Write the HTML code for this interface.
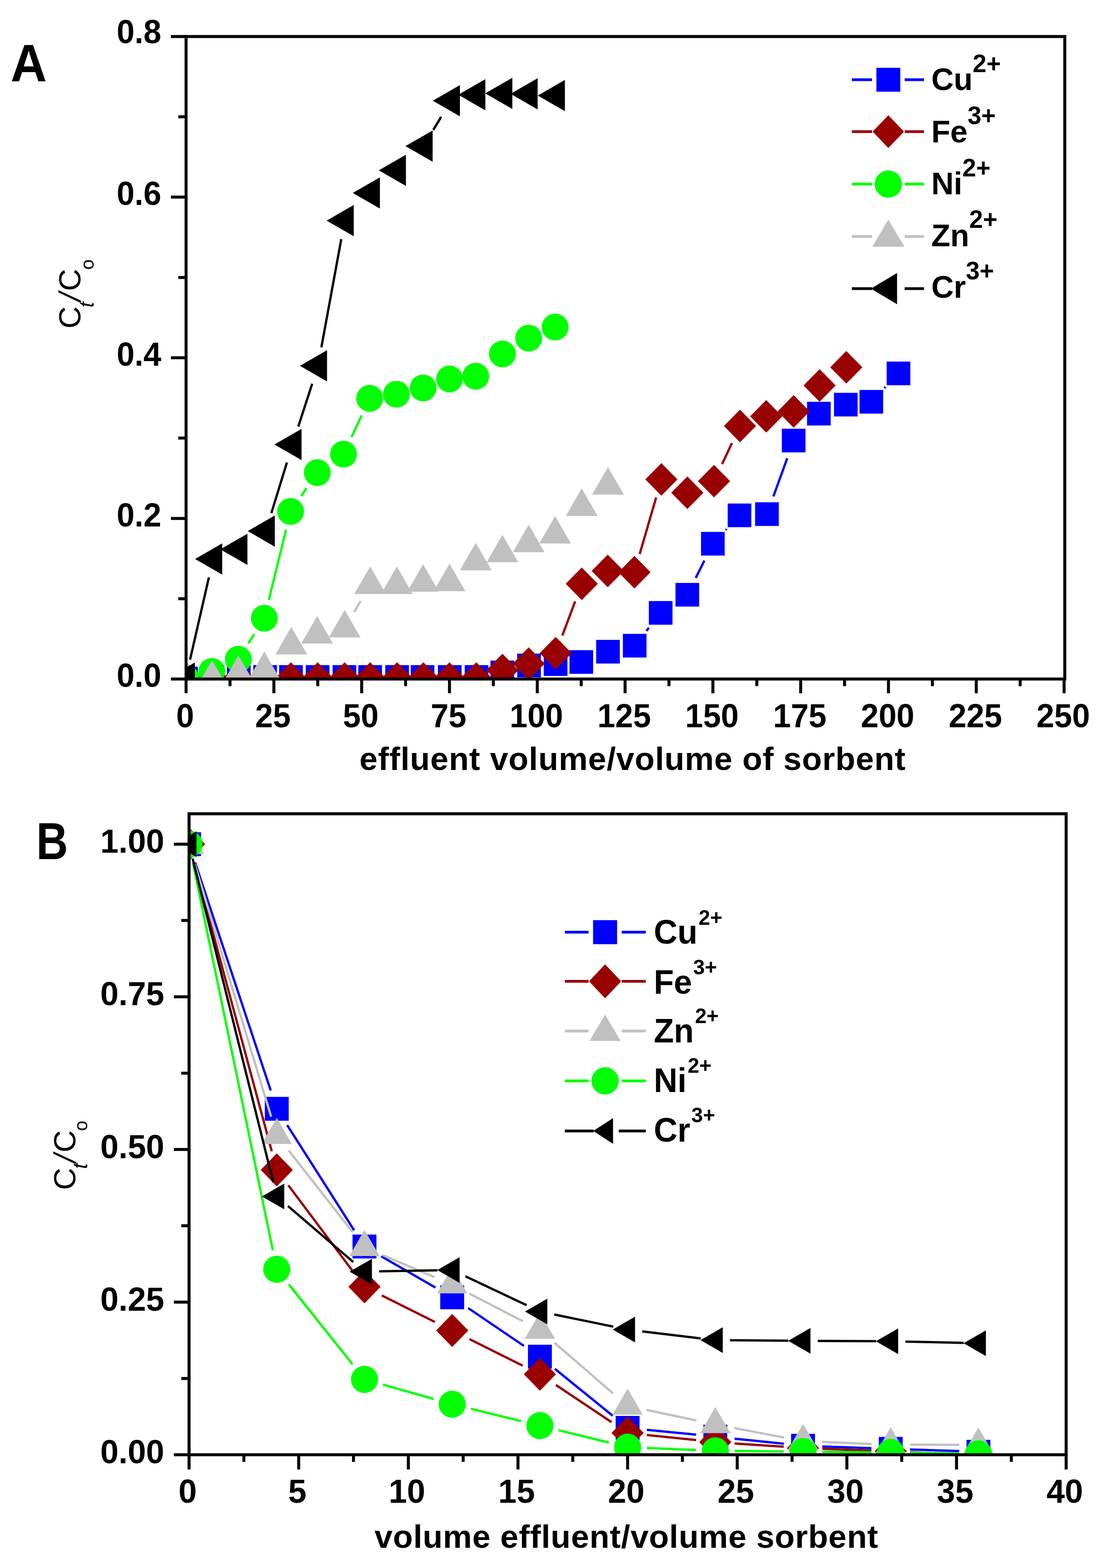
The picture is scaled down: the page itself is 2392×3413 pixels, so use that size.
<!DOCTYPE html><html><head><meta charset="utf-8"><title>Breakthrough and elution curves</title>
<style>html,body{margin:0;padding:0;background:#fff;}svg{display:block;}text{font-family:"Liberation Sans", sans-serif;}</style></head><body>
<svg width="2392" height="3413" viewBox="0 0 2392 3413">
<rect width="2392" height="3413" fill="#fff"/>
<defs><clipPath id="clipA"><rect x="405" y="79.5" width="1912.5" height="1398.5"/></clipPath><clipPath id="clipB"><rect x="411.5" y="1771.3" width="1909" height="1395.2"/></clipPath></defs>
<g clip-path="url(#clipA)">
<path d="M1406.9 1373.3L1412.4 1366.2M1514.3 1257.8L1533.2 1220.2M1579.6 1153.6L1581.5 1151.6M1683.3 1080.6L1713.4 997.5M1924.8 844.9L1927.2 842.3" stroke="#0000ff" stroke-width="5" fill="none"/>
<rect x="379.2" y="1451.2" width="51.5" height="51.5" fill="#0000ff"/><rect x="436.6" y="1447.7" width="51.5" height="51.5" fill="#0000ff"/><rect x="494" y="1447.7" width="51.5" height="51.5" fill="#0000ff"/><rect x="551.2" y="1447.7" width="51.5" height="51.5" fill="#0000ff"/><rect x="607.5" y="1447.7" width="51.5" height="51.5" fill="#0000ff"/><rect x="665.6" y="1447.7" width="51.5" height="51.5" fill="#0000ff"/><rect x="723.9" y="1447.7" width="51.5" height="51.5" fill="#0000ff"/><rect x="779.9" y="1447.7" width="51.5" height="51.5" fill="#0000ff"/><rect x="838.5" y="1447.7" width="51.5" height="51.5" fill="#0000ff"/><rect x="894" y="1447.7" width="51.5" height="51.5" fill="#0000ff"/><rect x="953.1" y="1447.7" width="51.5" height="51.5" fill="#0000ff"/><rect x="1011.5" y="1447.7" width="51.5" height="51.5" fill="#0000ff"/><rect x="1067.5" y="1437.8" width="51.5" height="51.5" fill="#0000ff"/><rect x="1125.7" y="1422.7" width="51.5" height="51.5" fill="#0000ff"/><rect x="1183.5" y="1419.8" width="51.5" height="51.5" fill="#0000ff"/><rect x="1239.5" y="1415.2" width="51.5" height="51.5" fill="#0000ff"/><rect x="1297.5" y="1392.8" width="51.5" height="51.5" fill="#0000ff"/><rect x="1355.7" y="1379.7" width="51.5" height="51.5" fill="#0000ff"/><rect x="1412.2" y="1308.3" width="51.5" height="51.5" fill="#0000ff"/><rect x="1470.2" y="1268.8" width="51.5" height="51.5" fill="#0000ff"/><rect x="1525.8" y="1157.8" width="51.5" height="51.5" fill="#0000ff"/><rect x="1583.8" y="1096" width="51.5" height="51.5" fill="#0000ff"/><rect x="1643.5" y="1093.3" width="51.5" height="51.5" fill="#0000ff"/><rect x="1701.7" y="933.2" width="51.5" height="51.5" fill="#0000ff"/><rect x="1756.5" y="874.6" width="51.5" height="51.5" fill="#0000ff"/><rect x="1815.2" y="855" width="51.5" height="51.5" fill="#0000ff"/><rect x="1870.7" y="848.8" width="51.5" height="51.5" fill="#0000ff"/><rect x="1929.8" y="787" width="51.5" height="51.5" fill="#0000ff"/>
<path d="M1223.9 1383.3L1251.8 1309.1M1392.3 1206L1428.1 1083M1571.6 1010.2L1593.1 964.4" stroke="#990000" stroke-width="5" fill="none"/>
<polygon points="405,1441.5 440,1477 405,1512.5 370,1477" fill="#990000"/><polygon points="462.3,1441.5 497.3,1477 462.3,1512.5 427.3,1477" fill="#990000"/><polygon points="519.7,1441.5 554.7,1477 519.7,1512.5 484.7,1477" fill="#990000"/><polygon points="577,1441.5 612,1477 577,1512.5 542,1477" fill="#990000"/><polygon points="633.1,1441.5 668.1,1477 633.1,1512.5 598.1,1477" fill="#990000"/><polygon points="691.4,1441.5 726.4,1477 691.4,1512.5 656.4,1477" fill="#990000"/><polygon points="750.1,1441.5 785.1,1477 750.1,1512.5 715.1,1477" fill="#990000"/><polygon points="805.6,1441.5 840.6,1477 805.6,1512.5 770.6,1477" fill="#990000"/><polygon points="864.3,1441.5 899.3,1477 864.3,1512.5 829.3,1477" fill="#990000"/><polygon points="921.5,1441.5 956.5,1477 921.5,1512.5 886.5,1477" fill="#990000"/><polygon points="978.3,1441.5 1013.3,1477 978.3,1512.5 943.3,1477" fill="#990000"/><polygon points="1036.6,1441.5 1071.6,1477 1036.6,1512.5 1001.6,1477" fill="#990000"/><polygon points="1093.6,1423.1 1128.6,1458.6 1093.6,1494.1 1058.6,1458.6" fill="#990000"/><polygon points="1150.8,1408.9 1185.8,1444.4 1150.8,1479.9 1115.8,1444.4" fill="#990000"/><polygon points="1209.5,1386.2 1244.5,1421.7 1209.5,1457.2 1174.5,1421.7" fill="#990000"/><polygon points="1266.2,1235.2 1301.2,1270.7 1266.2,1306.2 1231.2,1270.7" fill="#990000"/><polygon points="1322.7,1207.2 1357.7,1242.7 1322.7,1278.2 1287.7,1242.7" fill="#990000"/><polygon points="1380.9,1209.9 1415.9,1245.4 1380.9,1280.9 1345.9,1245.4" fill="#990000"/><polygon points="1439.5,1008.1 1474.5,1043.6 1439.5,1079.1 1404.5,1043.6" fill="#990000"/><polygon points="1496,1037.1 1531,1072.6 1496,1108.1 1461,1072.6" fill="#990000"/><polygon points="1554.1,1011.8 1589.1,1047.3 1554.1,1082.8 1519.1,1047.3" fill="#990000"/><polygon points="1610.6,891.8 1645.6,927.3 1610.6,962.8 1575.6,927.3" fill="#990000"/><polygon points="1667.7,870.7 1702.7,906.2 1667.7,941.7 1632.7,906.2" fill="#990000"/><polygon points="1727.4,860.1 1762.4,895.6 1727.4,931.1 1692.4,895.6" fill="#990000"/><polygon points="1783.9,803.6 1818.9,839.1 1783.9,874.6 1748.9,839.1" fill="#990000"/><polygon points="1842,764 1877,799.5 1842,835 1807,799.5" fill="#990000"/>
<path d="M540.7 1400.3L553.3 1380.3M585.1 1305.9L622.6 1153.1M655.6 1079.5L667.3 1062.6M765 951.5L787.2 904.2" stroke="#00ff00" stroke-width="5" fill="none"/>
<circle cx="405" cy="1477" r="29.2" fill="#00ff00"/><circle cx="461.1" cy="1461.5" r="29.2" fill="#00ff00"/><circle cx="518.7" cy="1434.9" r="29.2" fill="#00ff00"/><circle cx="575.3" cy="1345.7" r="29.2" fill="#00ff00"/><circle cx="632.4" cy="1113.3" r="29.2" fill="#00ff00"/><circle cx="690.5" cy="1028.8" r="29.2" fill="#00ff00"/><circle cx="747.6" cy="988.6" r="29.2" fill="#00ff00"/><circle cx="804.6" cy="867.1" r="29.2" fill="#00ff00"/><circle cx="862.8" cy="858.1" r="29.2" fill="#00ff00"/><circle cx="920.9" cy="844.4" r="29.2" fill="#00ff00"/><circle cx="978.4" cy="824.9" r="29.2" fill="#00ff00"/><circle cx="1035.5" cy="819" r="29.2" fill="#00ff00"/><circle cx="1093.6" cy="770.4" r="29.2" fill="#00ff00"/><circle cx="1150.7" cy="736.1" r="29.2" fill="#00ff00"/><circle cx="1208.2" cy="711.8" r="29.2" fill="#00ff00"/>
<path d="M770.9 1332.3L784.9 1308.3" stroke="#c0c0c0" stroke-width="5" fill="none"/>
<polygon points="405,1437.1 439.5,1496.9 370.5,1496.9" fill="#c0c0c0"/><polygon points="461.5,1437 496,1496.8 427,1496.8" fill="#c0c0c0"/><polygon points="519,1426.7 553.5,1486.5 484.5,1486.5" fill="#c0c0c0"/><polygon points="575.3,1418.3 609.8,1478.1 540.8,1478.1" fill="#c0c0c0"/><polygon points="634,1364.7 668.5,1424.5 599.5,1424.5" fill="#c0c0c0"/><polygon points="690.3,1340.9 724.8,1400.7 655.8,1400.7" fill="#c0c0c0"/><polygon points="750.1,1327.7 784.6,1387.5 715.6,1387.5" fill="#c0c0c0"/><polygon points="805.7,1233.1 840.2,1292.9 771.2,1292.9" fill="#c0c0c0"/><polygon points="863.8,1233.1 898.3,1292.9 829.3,1292.9" fill="#c0c0c0"/><polygon points="920.9,1228.1 955.4,1287.9 886.4,1287.9" fill="#c0c0c0"/><polygon points="978.4,1226.9 1012.9,1286.7 943.9,1286.7" fill="#c0c0c0"/><polygon points="1035.5,1181.4 1070,1241.2 1001,1241.2" fill="#c0c0c0"/><polygon points="1093.6,1164 1128.1,1223.8 1059.1,1223.8" fill="#c0c0c0"/><polygon points="1150.7,1142.1 1185.2,1201.9 1116.2,1201.9" fill="#c0c0c0"/><polygon points="1208.2,1123.3 1242.7,1183.1 1173.7,1183.1" fill="#c0c0c0"/><polygon points="1266.2,1063.1 1300.7,1122.9 1231.7,1122.9" fill="#c0c0c0"/><polygon points="1323.3,1016.6 1357.8,1076.4 1288.8,1076.4" fill="#c0c0c0"/>
<path d="M413.6 1436L454.7 1256.8M590.6 1116.9L624.5 1006.7M649.2 928.5L679.5 835.3M699.5 756L742.8 520.5M943 282.9L960.2 254.4" stroke="#000000" stroke-width="5" fill="none"/>
<polygon points="365.1,1476 424.1,1442 424.1,1510" fill="#000000"/><polygon points="424.6,1216.8 483.6,1182.8 483.6,1250.8" fill="#000000"/><polygon points="479.5,1195.7 538.5,1161.7 538.5,1229.7" fill="#000000"/><polygon points="539.2,1156.1 598.2,1122.1 598.2,1190.1" fill="#000000"/><polygon points="597.3,967.5 656.3,933.5 656.3,1001.5" fill="#000000"/><polygon points="652.8,796.3 711.8,762.3 711.8,830.3" fill="#000000"/><polygon points="710.9,480.2 769.9,446.2 769.9,514.2" fill="#000000"/><polygon points="767.9,420 826.9,386 826.9,454" fill="#000000"/><polygon points="824.5,370.8 883.5,336.8 883.5,404.8" fill="#000000"/><polygon points="882.6,318 941.6,284 941.6,352" fill="#000000"/><polygon points="942,219.3 1001,185.3 1001,253.3" fill="#000000"/><polygon points="997.4,206.2 1056.4,172.2 1056.4,240.2" fill="#000000"/><polygon points="1056.1,203.3 1115.1,169.3 1115.1,237.3" fill="#000000"/><polygon points="1111.2,204.3 1170.2,170.3 1170.2,238.3" fill="#000000"/><polygon points="1170.5,208 1229.5,174 1229.5,242" fill="#000000"/>
</g>
<g clip-path="url(#clipB)">
<path d="M424.7 1877.4L589.2 2373.6M625 2448.9L770.7 2677.8M829.6 2734.3L947.9 2802.7M1019 2847.3L1140.3 2929.5M1207.7 2979.5L1333.4 3081.5M1407.8 3112.2L1515.1 3122.8M1598.7 3131.4L1706 3142.6M1789.8 3148.5L1896.7 3152.2M1980.7 3155.1L2087.6 3158.6" stroke="#0000ff" stroke-width="5" fill="none"/>
<rect x="385.5" y="1811.5" width="52" height="52" fill="#0000ff"/><rect x="576.4" y="2387.5" width="52" height="52" fill="#0000ff"/><rect x="767.3" y="2687.2" width="52" height="52" fill="#0000ff"/><rect x="958.2" y="2797.8" width="52" height="52" fill="#0000ff"/><rect x="1149.1" y="2927" width="52" height="52" fill="#0000ff"/><rect x="1340" y="3082" width="52" height="52" fill="#0000ff"/><rect x="1530.9" y="3101" width="52" height="52" fill="#0000ff"/><rect x="1721.8" y="3121" width="52" height="52" fill="#0000ff"/><rect x="1912.7" y="3127.7" width="52" height="52" fill="#0000ff"/><rect x="2103.6" y="3134" width="52" height="52" fill="#0000ff"/>
<path d="M422.4 1878.1L591.5 2505.9M627.6 2580.1L768.1 2767.4M830.9 2819.7L946.6 2877.4M1021.8 2914.8L1137.5 2972.5M1210 3014.6L1331.1 3095.6M1407.8 3123.4L1515.1 3134.6M1598.8 3141.9L1705.9 3149.1M1789.8 3153.5L1896.7 3157.5M1980.7 3161L2087.6 3166" stroke="#990000" stroke-width="5" fill="none"/>
<polygon points="411.5,1801.5 446.5,1837.5 411.5,1873.5 376.5,1837.5" fill="#990000"/><polygon points="602.4,2510.5 637.4,2546.5 602.4,2582.5 567.4,2546.5" fill="#990000"/><polygon points="793.3,2765 828.3,2801 793.3,2837 758.3,2801" fill="#990000"/><polygon points="984.2,2860.1 1019.2,2896.1 984.2,2932.1 949.2,2896.1" fill="#990000"/><polygon points="1175.1,2955.2 1210.1,2991.2 1175.1,3027.2 1140.1,2991.2" fill="#990000"/><polygon points="1366,3083 1401,3119 1366,3155 1331,3119" fill="#990000"/><polygon points="1556.9,3103 1591.9,3139 1556.9,3175 1521.9,3139" fill="#990000"/><polygon points="1747.8,3116 1782.8,3152 1747.8,3188 1712.8,3152" fill="#990000"/><polygon points="1938.7,3123 1973.7,3159 1938.7,3195 1903.7,3159" fill="#990000"/><polygon points="2129.6,3132 2164.6,3168 2129.6,3204 2094.6,3168" fill="#990000"/>
<path d="M423.7 1880.2L590.2 2430.8M628.3 2504.1L767.4 2681.9M831.9 2731.5L945.6 2779.8M1021.5 2815.6L1137.8 2875.8M1206.9 2922.6L1334.2 3032.8M1407.1 3069L1515.8 3091.8M1598.2 3108.4L1706.5 3129.1M1789.8 3138.6L1896.7 3142.9M1980.7 3144.6L2087.6 3144.9" stroke="#c0c0c0" stroke-width="5" fill="none"/>
<polygon points="411.5,1802.3 444.5,1858.9 378.5,1858.9" fill="#c0c0c0"/><polygon points="602.4,2433.3 635.4,2489.9 569.4,2489.9" fill="#c0c0c0"/><polygon points="793.3,2677.3 826.3,2733.9 760.3,2733.9" fill="#c0c0c0"/><polygon points="984.2,2758.6 1017.2,2815.2 951.2,2815.2" fill="#c0c0c0"/><polygon points="1175.1,2857.4 1208.1,2914 1142.1,2914" fill="#c0c0c0"/><polygon points="1366,3022.6 1399,3079.2 1333,3079.2" fill="#c0c0c0"/><polygon points="1556.9,3062.8 1589.9,3119.4 1523.9,3119.4" fill="#c0c0c0"/><polygon points="1747.8,3099.3 1780.8,3155.9 1714.8,3155.9" fill="#c0c0c0"/><polygon points="1938.7,3106.8 1971.7,3163.4 1905.7,3163.4" fill="#c0c0c0"/><polygon points="2129.6,3107.3 2162.6,3163.9 2096.6,3163.9" fill="#c0c0c0"/>
<path d="M420 1878.6L593.9 2721.6M628.6 2795.6L767.1 2969.5M833.7 3013.9L943.8 3045M1025 3066.5L1134.3 3093.1M1215.9 3113.1L1325.2 3140M1408 3151.8L1514.9 3156.2M1598.9 3158.3L1705.8 3159.2M1789.8 3159.9L1896.7 3160.9M1980.7 3162L2087.6 3163.8" stroke="#00ff00" stroke-width="5" fill="none"/>
<circle cx="411.5" cy="1837.5" r="29.5" fill="#00ff00"/><circle cx="602.4" cy="2762.7" r="29.5" fill="#00ff00"/><circle cx="793.3" cy="3002.4" r="29.5" fill="#00ff00"/><circle cx="984.2" cy="3056.5" r="29.5" fill="#00ff00"/><circle cx="1175.1" cy="3103.1" r="29.5" fill="#00ff00"/><circle cx="1366" cy="3150" r="29.5" fill="#00ff00"/><circle cx="1556.9" cy="3158" r="29.5" fill="#00ff00"/><circle cx="1747.8" cy="3159.5" r="29.5" fill="#00ff00"/><circle cx="1938.7" cy="3161.3" r="29.5" fill="#00ff00"/><circle cx="2129.6" cy="3164.5" r="29.5" fill="#00ff00"/>
<path d="M419.2 1868.6L594.7 2573.2M626.7 2625.1L769 2747.1M825.3 2767.3L952.2 2765M1013.1 2778.1L1146.2 2841M1206.4 2861.2L1334.7 2887.6M1397.8 2897.9L1525.1 2913.2M1588.9 2917.3L1715.8 2918.2M1779.8 2918.7L1906.7 2919.3M1970.7 2920.2L2097.6 2923" stroke="#000000" stroke-width="5" fill="none"/>
<polygon points="379.2,1837.5 427.7,1809.5 427.7,1865.5" fill="#000000"/><polygon points="570.1,2604.3 618.6,2576.3 618.6,2632.3" fill="#000000"/><polygon points="761,2767.9 809.5,2739.9 809.5,2795.9" fill="#000000"/><polygon points="951.9,2764.4 1000.4,2736.4 1000.4,2792.4" fill="#000000"/><polygon points="1142.8,2854.7 1191.3,2826.7 1191.3,2882.7" fill="#000000"/><polygon points="1333.7,2894.1 1382.2,2866.1 1382.2,2922.1" fill="#000000"/><polygon points="1524.6,2917 1573.1,2889 1573.1,2945" fill="#000000"/><polygon points="1715.5,2918.5 1764,2890.5 1764,2946.5" fill="#000000"/><polygon points="1906.4,2919.5 1954.9,2891.5 1954.9,2947.5" fill="#000000"/><polygon points="2097.3,2923.7 2145.8,2895.7 2145.8,2951.7" fill="#000000"/>
</g>
<rect x="405" y="79.5" width="1912.5" height="1398.5" fill="none" stroke="#000" stroke-width="6.5"/>
<path d="M372 1478H405M388 1303.2H405M372 1128.4H405M388 953.6H405M372 778.8H405M388 604H405M372 429.1H405M388 254.3H405M372 79.5H405M405 1478V1509M500.6 1478V1493.5M596.1 1478V1509M691.6 1478V1493.5M787.2 1478V1509M882.8 1478V1493.5M978.3 1478V1509M1073.8 1478V1493.5M1169.4 1478V1509M1265 1478V1493.5M1360.5 1478V1509M1456 1478V1493.5M1551.6 1478V1509M1647.2 1478V1493.5M1742.7 1478V1509M1838.2 1478V1493.5M1933.8 1478V1509M2029.4 1478V1493.5M2124.9 1478V1509M2220.4 1478V1493.5M2316 1478V1509" stroke="#000" stroke-width="6.5" fill="none"/>
<text transform="translate(351 1495.2) scale(0.97 1)" font-size="72" font-weight="bold" text-anchor="end">0.0</text>
<text transform="translate(351 1145.6) scale(0.97 1)" font-size="72" font-weight="bold" text-anchor="end">0.2</text>
<text transform="translate(351 796) scale(0.97 1)" font-size="72" font-weight="bold" text-anchor="end">0.4</text>
<text transform="translate(351 446.3) scale(0.97 1)" font-size="72" font-weight="bold" text-anchor="end">0.6</text>
<text transform="translate(351 94.2) scale(0.97 1)" font-size="72" font-weight="bold" text-anchor="end">0.8</text>
<text transform="translate(403 1583) scale(0.97 1)" font-size="72" font-weight="bold" text-anchor="middle">0</text>
<text transform="translate(594.1 1583) scale(0.97 1)" font-size="72" font-weight="bold" text-anchor="middle">25</text>
<text transform="translate(785.2 1583) scale(0.97 1)" font-size="72" font-weight="bold" text-anchor="middle">50</text>
<text transform="translate(976.3 1583) scale(0.97 1)" font-size="72" font-weight="bold" text-anchor="middle">75</text>
<text transform="translate(1167.4 1583) scale(0.97 1)" font-size="72" font-weight="bold" text-anchor="middle">100</text>
<text transform="translate(1358.5 1583) scale(0.97 1)" font-size="72" font-weight="bold" text-anchor="middle">125</text>
<text transform="translate(1549.6 1583) scale(0.97 1)" font-size="72" font-weight="bold" text-anchor="middle">150</text>
<text transform="translate(1740.7 1583) scale(0.97 1)" font-size="72" font-weight="bold" text-anchor="middle">175</text>
<text transform="translate(1931.8 1583) scale(0.97 1)" font-size="72" font-weight="bold" text-anchor="middle">200</text>
<text transform="translate(2122.9 1583) scale(0.97 1)" font-size="72" font-weight="bold" text-anchor="middle">225</text>
<text transform="translate(2314 1583) scale(0.97 1)" font-size="72" font-weight="bold" text-anchor="middle">250</text>
<text x="1377" y="1676" font-size="71" font-weight="bold" text-anchor="middle" letter-spacing="0.9">effluent volume/volume of sorbent</text>
<text transform="translate(23 177) scale(0.948 1)" font-size="115.5" font-weight="bold" text-anchor="start">A</text>
<rect x="411.5" y="1771.3" width="1909" height="1395.2" fill="none" stroke="#000" stroke-width="6.5"/>
<path d="M378.5 3166.5H411.5M394.5 3000.4H411.5M378.5 2834.2H411.5M394.5 2668.1H411.5M378.5 2502H411.5M394.5 2335.9H411.5M378.5 2169.8H411.5M394.5 2003.6H411.5M378.5 1837.5H411.5M411.5 3166.5V3198.5M530.8 3166.5V3182M650.1 3166.5V3198.5M769.4 3166.5V3182M888.8 3166.5V3198.5M1008.1 3166.5V3182M1127.4 3166.5V3198.5M1246.7 3166.5V3182M1366 3166.5V3198.5M1485.3 3166.5V3182M1604.6 3166.5V3198.5M1723.9 3166.5V3182M1843.2 3166.5V3198.5M1962.6 3166.5V3182M2081.9 3166.5V3198.5M2201.2 3166.5V3182M2320.5 3166.5V3198.5" stroke="#000" stroke-width="6.5" fill="none"/>
<text transform="translate(357.5 3185.2) scale(0.98 1)" font-size="73" font-weight="bold" text-anchor="end">0.00</text>
<text transform="translate(357.5 2852.9) scale(0.98 1)" font-size="73" font-weight="bold" text-anchor="end">0.25</text>
<text transform="translate(357.5 2520.7) scale(0.98 1)" font-size="73" font-weight="bold" text-anchor="end">0.50</text>
<text transform="translate(357.5 2188.4) scale(0.98 1)" font-size="73" font-weight="bold" text-anchor="end">0.75</text>
<text transform="translate(357.5 1856.2) scale(0.98 1)" font-size="73" font-weight="bold" text-anchor="end">1.00</text>
<text transform="translate(408.5 3270.5) scale(0.98 1)" font-size="73" font-weight="bold" text-anchor="middle">0</text>
<text transform="translate(647.1 3270.5) scale(0.98 1)" font-size="73" font-weight="bold" text-anchor="middle">5</text>
<text transform="translate(885.8 3270.5) scale(0.98 1)" font-size="73" font-weight="bold" text-anchor="middle">10</text>
<text transform="translate(1124.4 3270.5) scale(0.98 1)" font-size="73" font-weight="bold" text-anchor="middle">15</text>
<text transform="translate(1363 3270.5) scale(0.98 1)" font-size="73" font-weight="bold" text-anchor="middle">20</text>
<text transform="translate(1601.6 3270.5) scale(0.98 1)" font-size="73" font-weight="bold" text-anchor="middle">25</text>
<text transform="translate(1840.2 3270.5) scale(0.98 1)" font-size="73" font-weight="bold" text-anchor="middle">30</text>
<text transform="translate(2078.9 3270.5) scale(0.98 1)" font-size="73" font-weight="bold" text-anchor="middle">35</text>
<text transform="translate(2317.5 3270.5) scale(0.98 1)" font-size="73" font-weight="bold" text-anchor="middle">40</text>
<text x="1363.5" y="3368.5" font-size="71" font-weight="bold" text-anchor="middle" letter-spacing="0.8">volume effluent/volume sorbent</text>
<text transform="translate(79 1869.6) scale(0.842 1)" font-size="113.4" font-weight="bold" text-anchor="start">B</text>
<text transform="translate(175 715.3) rotate(-90)" font-size="67">C<tspan font-size="44" font-style="italic" dy="29" dx="-2.4">t</tspan><tspan dy="-29" font-style="italic" dx="1.4">/</tspan><tspan dx="3.5">C</tspan><tspan font-size="41" dy="29" dx="-2">o</tspan></text>
<text transform="translate(163.6 2590.2) rotate(-90)" font-size="67">C<tspan font-size="44" font-style="italic" dy="26" dx="-2.4">t</tspan><tspan dy="-26" font-style="italic" dx="1.4">/</tspan><tspan dx="3.5">C</tspan><tspan font-size="41" dy="26" dx="-2">o</tspan></text>
<path d="M1854 173.6H1898 M1969 173.6H2011" stroke="#0000ff" stroke-width="6"/><rect x="1907.5" y="147.6" width="52" height="52" fill="#0000ff"/><text transform="translate(2027 196) scale(0.98 1)" font-size="69" font-weight="bold">Cu<tspan font-size="55" dy="-39.5" dx="0">2+</tspan></text><path d="M1854 286.5H1898 M1969 286.5H2011" stroke="#990000" stroke-width="6"/><polygon points="1933.5,250.8 1967.7,286.5 1933.5,322.2 1899.3,286.5" fill="#990000"/><text transform="translate(2027 309.8) scale(0.98 1)" font-size="69" font-weight="bold">Fe<tspan font-size="55" dy="-39.5" dx="0">3+</tspan></text><path d="M1854 400.8H1898 M1969 400.8H2011" stroke="#00ff00" stroke-width="6"/><circle cx="1933.5" cy="400.8" r="29.8" fill="#00ff00"/><text transform="translate(2027 423.2) scale(0.98 1)" font-size="69" font-weight="bold">Ni<tspan font-size="55" dy="-39.5" dx="0">2+</tspan></text><path d="M1854 514.8H1898 M1969 514.8H2011" stroke="#c0c0c0" stroke-width="6"/><polygon points="1933.5,478 1968.5,537 1898.5,537" fill="#c0c0c0"/><text transform="translate(2027 535.5) scale(0.98 1)" font-size="69" font-weight="bold">Zn<tspan font-size="55" dy="-39.5" dx="0">2+</tspan></text><path d="M1854 628.3H1898 M1969 628.3H2011" stroke="#000000" stroke-width="6"/><polygon points="1895.5,628.3 1952.5,594.3 1952.5,662.3" fill="#000000"/><text transform="translate(2027 647.8) scale(0.98 1)" font-size="69" font-weight="bold">Cr<tspan font-size="55" dy="-39.5" dx="0">3+</tspan></text>
<path d="M1229.4 2029.1H1281 M1353 2029.1H1405.6" stroke="#0000ff" stroke-width="6"/><rect x="1290.8" y="2002.9" width="52.3" height="52.3" fill="#0000ff"/><text transform="translate(1423 2054.3) scale(0.965 1)" font-size="74" font-weight="bold">Cu<tspan font-size="47" dy="-41.5" dx="2.5">2+</tspan></text><path d="M1229.4 2136H1281 M1353 2136H1405.6" stroke="#990000" stroke-width="6"/><polygon points="1317,2099 1352,2136 1317,2173 1282,2136" fill="#990000"/><text transform="translate(1423 2162.6) scale(0.965 1)" font-size="74" font-weight="bold">Fe<tspan font-size="47" dy="-41.5" dx="2.5">3+</tspan></text><path d="M1229.4 2244.2H1281 M1353 2244.2H1405.6" stroke="#c0c0c0" stroke-width="6"/><polygon points="1317,2208.5 1351,2265.8 1283,2265.8" fill="#c0c0c0"/><text transform="translate(1423 2268.8) scale(0.965 1)" font-size="74" font-weight="bold">Zn<tspan font-size="47" dy="-41.5" dx="2.5">2+</tspan></text><path d="M1229.4 2352.7H1281 M1353 2352.7H1405.6" stroke="#00ff00" stroke-width="6"/><circle cx="1317" cy="2352.7" r="29.8" fill="#00ff00"/><text transform="translate(1423 2376.5) scale(0.965 1)" font-size="74" font-weight="bold">Ni<tspan font-size="47" dy="-41.5" dx="2.5">2+</tspan></text><path d="M1229.4 2461.8H1292.3 M1346.8 2461.8H1405.6" stroke="#000000" stroke-width="6"/><polygon points="1291.3,2461.8 1334.3,2433.8 1334.3,2489.8" fill="#000000"/><text transform="translate(1423 2484.8) scale(0.965 1)" font-size="74" font-weight="bold">Cr<tspan font-size="47" dy="-41.5" dx="2.5">3+</tspan></text>
</svg></body></html>
